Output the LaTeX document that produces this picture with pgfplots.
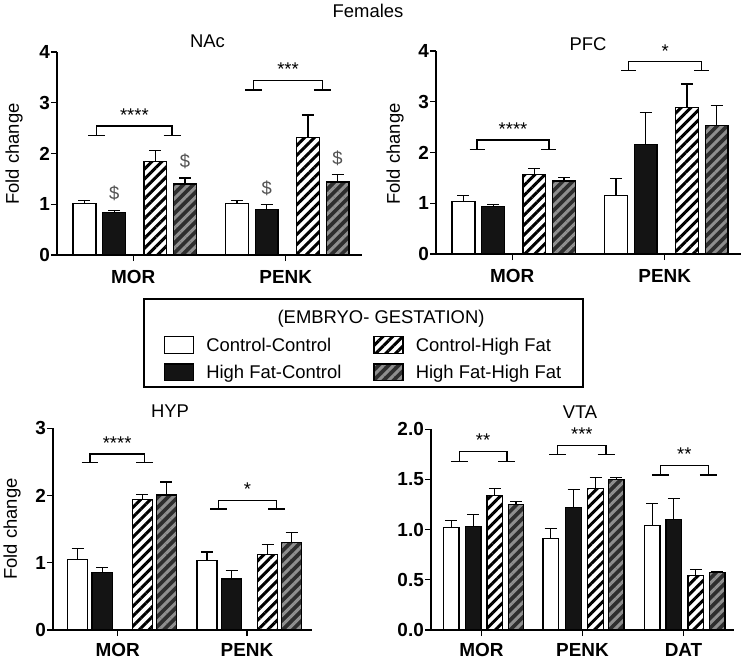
\documentclass[border=0pt]{standalone}
\usepackage{fontspec}
\setmainfont{Liberation Sans}
\usepackage{pgfplots}
\pgfplotsset{compat=1.18}
\usetikzlibrary{patterns.meta}
\definecolor{dgray}{gray}{0.18}
\definecolor{sgray}{gray}{0.56}
\definecolor{dollar}{gray}{0.32}
\newcommand\rfont{\fontsize{18.5}{22}\selectfont}
\newcommand\bfont{\bfseries\fontsize{19}{22}\selectfont}
\pgfplotsset{
  panel/.style={
    scale only axis, anchor=south west,
    axis x line*=bottom, axis y line*=left,
    axis line style={line width=1.2bp, black},
    tick style={line width=1.2bp, black},
    major tick length=6bp, tick align=outside,
    enlargelimits=false, clip=false, ymin=0,
    tick label style={font=\bfont},
    yticklabel style={inner sep=1bp},
    xticklabel style={inner sep=0pt, yshift=-9bp},
  },
  cc/.style={ybar, bar shift=0pt, draw=black, line width=1.3bp, fill=white, forget plot},
  hfc/.style={ybar, bar shift=0pt, draw=black, line width=1.3bp, fill=black!92, forget plot},
  chf/.style={ybar, bar shift=0pt, draw=black, line width=1.3bp, preaction={fill=white},
     pattern={Lines[angle=45,distance=7bp,line width=3bp]}, pattern color=black, forget plot},
  hfhf/.style={ybar, bar shift=0pt, draw=black, line width=1.3bp, preaction={fill=dgray},
     pattern={Lines[angle=45,distance=7bp,line width=3bp]}, pattern color=sgray, forget plot},
  eb/.style={error bars/.cd, y dir=plus, y explicit,
     error bar style={line width=1.3bp, black},
     error mark options={rotate=90, mark size=6bp, line width=1.3bp, black}},
  brk/.style={black, line width=1.4bp, mark=none, forget plot},
}
\begin{document}
\begin{tikzpicture}[font=\rfont]
\path[use as bounding box] (0,0) rectangle (742bp,-660bp);

% ---------------- NAc ----------------
\begin{axis}[panel, at={(57bp,-255bp)}, width=305bp, height=203bp,
  xmin=0.5, xmax=2.5, ymax=4, ytick={0,1,2,3,4}, yticklabels={0,1,2,3,4},
  xtick={1,2}, xticklabels={MOR,PENK}, bar width=0.15,
  legend columns=2,
  legend image code/.code={\draw[#1] (0bp,-1.6bp) rectangle (29bp,15bp);},
  legend style={draw=none, fill=none, inner sep=0pt, outer sep=0pt,
    at={(axis description cs:0.3508,-0.3995)}, anchor=north west,
    font=\rfont, row sep=8bp, cells={anchor=base west, inner sep=0pt},
    /tikz/every odd column/.append style={column sep=10bp},
    /tikz/every even column/.append style={column sep=30bp}},
]
\addlegendimage{draw=black, line width=1.3bp, fill=white}
\addlegendentry{Control-Control}
\addlegendimage{draw=black, line width=1.3bp, preaction={fill=white}, pattern={Lines[angle=45,distance=7bp,line width=3bp]}, pattern color=black}
\addlegendentry{Control-High Fat}
\addlegendimage{draw=black, line width=1.3bp, fill=black!92}
\addlegendentry{High Fat-Control}
\addlegendimage{draw=black, line width=1.3bp, preaction={fill=dgray}, pattern={Lines[angle=45,distance=7bp,line width=3bp]}, pattern color=sgray}
\addlegendentry{High Fat-High Fat}

\addplot[cc, eb] coordinates {(0.68,1.02) +- (0,0.06) (1.68,1.01) +- (0,0.07)};
\addplot[hfc, eb] coordinates {(0.875,0.84) +- (0,0.04) (1.875,0.89) +- (0,0.11)};
\addplot[chf, eb] coordinates {(1.145,1.84) +- (0,0.22) (2.145,2.31) +- (0,0.45)};
\addplot[hfhf, eb] coordinates {(1.34,1.40) +- (0,0.12) (2.34,1.44) +- (0,0.15)};
% significance brackets
\addplot[brk] coordinates {(0.704,2.36) (0.816,2.36)};
\addplot[brk] coordinates {(0.76,2.36) (0.76,2.54) (1.255,2.54) (1.255,2.36)};
\addplot[brk] coordinates {(1.199,2.36) (1.311,2.36)};
\node[anchor=base, yshift=4.5bp] at (axis cs:1.0075,2.54) {****};
\addplot[brk] coordinates {(1.734,3.25) (1.846,3.25)};
\addplot[brk] coordinates {(1.79,3.25) (1.79,3.44) (2.24,3.44) (2.24,3.25)};
\addplot[brk] coordinates {(2.184,3.25) (2.296,3.25)};
\node[anchor=base, yshift=4.5bp] at (axis cs:2.015,3.44) {***};
\node[text=dollar] at (axis cs:0.875,1.21) {\$};
\node[text=dollar] at (axis cs:1.34,1.85) {\$};
\node[text=dollar] at (axis cs:1.875,1.31) {\$};
\node[text=dollar] at (axis cs:2.34,1.90) {\$};
\end{axis}

% ---------------- PFC ----------------
\begin{axis}[panel, at={(436bp,-254bp)}, width=305bp, height=203bp,
  xmin=0.5, xmax=2.5, ymax=4, ytick={0,1,2,3,4}, yticklabels={0,1,2,3,4},
  xtick={1,2}, xticklabels={MOR,PENK}, bar width=0.15]
\addplot[cc, eb] coordinates {(0.68,1.04) +- (0,0.11) (1.68,1.15) +- (0,0.34)};
\addplot[hfc, eb] coordinates {(0.875,0.93) +- (0,0.04) (1.875,2.16) +- (0,0.63)};
\addplot[chf, eb] coordinates {(1.145,1.56) +- (0,0.13) (2.145,2.89) +- (0,0.46)};
\addplot[hfhf, eb] coordinates {(1.34,1.44) +- (0,0.07) (2.34,2.53) +- (0,0.39)};
\addplot[brk] coordinates {(0.72,2.06) (0.82,2.06)};
\addplot[brk] coordinates {(0.77,2.06) (0.77,2.25) (1.24,2.25) (1.24,2.06)};
\addplot[brk] coordinates {(1.19,2.06) (1.29,2.06)};
\node[anchor=base, yshift=4.5bp] at (axis cs:1.005,2.25) {****};
\addplot[brk] coordinates {(1.714,3.61) (1.814,3.61)};
\addplot[brk] coordinates {(1.764,3.61) (1.764,3.79) (2.242,3.79) (2.242,3.61)};
\addplot[brk] coordinates {(2.192,3.61) (2.292,3.61)};
\node[anchor=base, yshift=4.5bp] at (axis cs:2.003,3.79) {*};
\end{axis}

% ---------------- HYP ----------------
\begin{axis}[panel, at={(53bp,-630bp)}, width=258.7bp, height=201.7bp,
  xmin=0.5, xmax=2.5, ymax=3, ytick={0,1,2,3}, yticklabels={0,1,2,3},
  xtick={1,2}, xticklabels={MOR,PENK}, bar width=0.155,
  xticklabel style={yshift=2bp}]
\addplot[cc, eb] coordinates {(0.69,1.05) +- (0,0.16) (1.69,1.03) +- (0,0.13)};
\addplot[hfc, eb] coordinates {(0.88,0.86) +- (0,0.07) (1.88,0.76) +- (0,0.13)};
\addplot[chf, eb] coordinates {(1.19,1.94) +- (0,0.08) (2.16,1.12) +- (0,0.15)};
\addplot[hfhf, eb] coordinates {(1.375,2.01) +- (0,0.19) (2.345,1.30) +- (0,0.15)};
\addplot[brk] coordinates {(0.722,2.49) (0.850,2.49)};
\addplot[brk] coordinates {(0.786,2.49) (0.786,2.62) (1.206,2.62) (1.206,2.49)};
\addplot[brk] coordinates {(1.142,2.49) (1.270,2.49)};
\node[anchor=base, yshift=4.5bp] at (axis cs:0.996,2.62) {****};
\addplot[brk] coordinates {(1.714,1.80) (1.842,1.80)};
\addplot[brk] coordinates {(1.778,1.80) (1.778,1.93) (2.229,1.93) (2.229,1.80)};
\addplot[brk] coordinates {(2.165,1.80) (2.293,1.80)};
\node[anchor=base, yshift=4.5bp] at (axis cs:2.0035,1.93) {*};
\end{axis}

% ---------------- VTA ----------------
\begin{axis}[panel, at={(431bp,-630bp)}, width=303bp, height=200.7bp,
  xmin=0.5, xmax=3.5, ymax=2, ytick={0,0.5,1,1.5,2}, yticklabels={0.0,0.5,1.0,1.5,2.0},
  xtick={1,2,3}, xticklabels={MOR,PENK,DAT}, bar width=0.153,
  xticklabel style={yshift=2bp}]
\addplot[cc, eb] coordinates {(0.70,1.02) +- (0,0.07) (1.685,0.91) +- (0,0.10) (2.691,1.04) +- (0,0.22)};
\addplot[hfc, eb] coordinates {(0.918,1.03) +- (0,0.12) (1.911,1.22) +- (0,0.18) (2.904,1.10) +- (0,0.21)};
\addplot[chf, eb] coordinates {(1.132,1.34) +- (0,0.07) (2.129,1.41) +- (0,0.11) (3.122,0.54) +- (0,0.06)};
\addplot[hfhf, eb] coordinates {(1.342,1.25) +- (0,0.03) (2.335,1.50) +- (0,0.02) (3.334,0.57) +- (0,0.01)};
\addplot[brk] coordinates {(0.696,1.68) (0.864,1.68)};
\addplot[brk] coordinates {(0.78,1.68) (0.78,1.78) (1.252,1.78) (1.252,1.68)};
\addplot[brk] coordinates {(1.168,1.68) (1.336,1.68)};
\node[anchor=base, yshift=4.5bp] at (axis cs:1.016,1.78) {**};
\addplot[brk] coordinates {(1.670,1.75) (1.838,1.75)};
\addplot[brk] coordinates {(1.754,1.75) (1.754,1.84) (2.233,1.84) (2.233,1.75)};
\addplot[brk] coordinates {(2.149,1.75) (2.317,1.75)};
\node[anchor=base, yshift=4.5bp] at (axis cs:1.9935,1.84) {***};
\addplot[brk] coordinates {(2.686,1.545) (2.854,1.545)};
\addplot[brk] coordinates {(2.77,1.545) (2.77,1.64) (3.246,1.64) (3.246,1.545)};
\addplot[brk] coordinates {(3.162,1.545) (3.330,1.545)};
\node[anchor=base, yshift=4.5bp] at (axis cs:3.008,1.64) {**};
\end{axis}

% titles and labels
\node[anchor=base] at (368bp,-17bp) {Females};
\node[anchor=base] at (207.5bp,-47bp) {NAc};
\node[anchor=base] at (588bp,-50bp) {PFC};
\node[anchor=base] at (170bp,-417bp) {HYP};
\node[anchor=base] at (580bp,-418bp) {VTA};
\node[rotate=90] at (14bp,-154bp) {Fold change};
\node[rotate=90] at (395bp,-154bp) {Fold change};
\node[rotate=90] at (12bp,-529bp) {Fold change};
% legend frame and title
\draw[line width=1.3bp] (144bp,-299bp) rectangle (583bp,-387bp);
\node[anchor=base] at (381bp,-323bp) {(EMBRYO- GESTATION)};
\end{tikzpicture}
\end{document}
